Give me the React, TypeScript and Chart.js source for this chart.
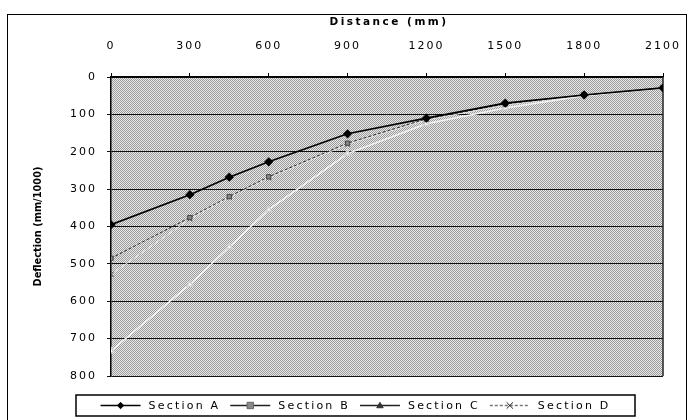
import React, { useEffect, useRef } from "react";
import { Chart, registerables } from "chart.js";

Chart.register(...registerables);

// ---- data ----
const distances = [0, 300, 450, 600, 900, 1200, 1500, 1800, 2100];
const sectionA = [395, 315, 268, 227, 152, 110, 70, 48, 29];
const sectionB = [485, 376, 320, 267, 177, 112, 72, 48, 29];
const sectionC = [733, 555, 455, 355, 205, 125, 83, 50, 30];
const sectionD = [528, 380, 322, 270, 180, 115, 75, 48, 29];
const seriesLabels = ["Section A", "Section B", "Section C", "Section D"];
const xTickValues = [0, 300, 600, 900, 1200, 1500, 1800, 2100];
const yTickValues = [0, 100, 200, 300, 400, 500, 600, 700, 800];
const xTitle = "Distance (mm)";
const yTitle = "Deflection (mm/1000)";

const FONT = "'DejaVu Sans', 'Liberation Sans', Arial, sans-serif";

function makePattern(ctx: CanvasRenderingContext2D) {
  const c = document.createElement("canvas");
  c.width = 4;
  c.height = 4;
  const g = c.getContext("2d")!;
  g.fillStyle = "#e9e9e9";
  g.fillRect(0, 0, 4, 4);
  g.fillStyle = "#9a9a9a";
  for (let y = 0; y < 4; y++)
    for (let x = 0; x < 4; x++) if ((x + y) % 2 === 0) g.fillRect(x, y, 1, 1);
  return ctx.createPattern(c, "repeat");
}

function drawMarker(
  ctx: CanvasRenderingContext2D,
  style: string,
  x: number,
  y: number,
  r: number,
  fill: string,
  stroke: string
) {
  ctx.save();
  ctx.fillStyle = fill;
  ctx.strokeStyle = stroke;
  ctx.lineWidth = 1;
  ctx.beginPath();
  if (style === "rectRot") {
    ctx.moveTo(x, y - r);
    ctx.lineTo(x + r, y);
    ctx.lineTo(x, y + r);
    ctx.lineTo(x - r, y);
    ctx.closePath();
    ctx.fill();
    ctx.stroke();
  } else if (style === "rect") {
    ctx.rect(x - r, y - r, 2 * r, 2 * r);
    ctx.fill();
    ctx.stroke();
  } else if (style === "triangle") {
    ctx.moveTo(x, y - r);
    ctx.lineTo(x + r, y + r * 0.7);
    ctx.lineTo(x - r, y + r * 0.7);
    ctx.closePath();
    ctx.fill();
    ctx.stroke();
  } else {
    ctx.moveTo(x - r, y - r);
    ctx.lineTo(x + r, y + r);
    ctx.moveTo(x + r, y - r);
    ctx.lineTo(x - r, y + r);
    ctx.stroke();
  }
  ctx.restore();
}

const legendStyles = [
  { line: "#000", dash: [] as number[], marker: "rectRot", fill: "#000", stroke: "#000" },
  { line: "#222", dash: [], marker: "rect", fill: "#8a8a8a", stroke: "#666" },
  { line: "#222", dash: [], marker: "triangle", fill: "#333", stroke: "#333" },
  { line: "#777", dash: [3, 2], marker: "crossRot", fill: "#222", stroke: "#222" },
];

const decorPlugin = {
  id: "decor",
  beforeUpdate(chart: any) {
    (chart.ctx as any).letterSpacing = "2px";
  },
  beforeDraw(chart: any) {
    const { ctx, chartArea } = chart;
    (ctx as any).letterSpacing = "2px";
    ctx.save();
    ctx.fillStyle = makePattern(ctx) || "#aaa";
    ctx.fillRect(chartArea.left, chartArea.top, chartArea.right - chartArea.left, chartArea.bottom - chartArea.top);
    ctx.restore();
  },
  beforeDatasetsDraw(chart: any) {
    const { ctx, chartArea } = chart;
    (ctx as any).letterSpacing = "0px";
    ctx.save();
    ctx.strokeStyle = "#222";
    ctx.lineWidth = 1.5;
    ctx.beginPath();
    ctx.moveTo(chartArea.right, chartArea.top);
    ctx.lineTo(chartArea.right, chartArea.bottom);
    ctx.stroke();
    ctx.restore();
  },
  afterDraw(chart: any) {
    const { ctx, chartArea } = chart;
    ctx.save();
    // x title
    (ctx as any).letterSpacing = "2.5px";
    ctx.font = `bold 10.5px ${FONT}`;
    ctx.fillStyle = "#000";
    ctx.textAlign = "center";
    ctx.textBaseline = "middle";
    ctx.fillText(xTitle, (chartArea.left + chartArea.right) / 2 + 2, 22);
    // y title
    (ctx as any).letterSpacing = "0px";
    ctx.save();
    ctx.translate(38, (chartArea.top + chartArea.bottom) / 2);
    ctx.rotate(-Math.PI / 2);
    ctx.font = `bold 9.8px ${FONT}`;
    ctx.fillText(yTitle, 0, 0);
    ctx.restore();

    // legend
    (ctx as any).letterSpacing = "2.2px";
    ctx.font = `11px ${FONT}`;
    ctx.textAlign = "left";
    const lineLen = 40;
    const gapAfterLine = 8;
    const gapBetween = 10;
    const widths = seriesLabels.map((l) => ctx.measureText(l).width);
    const total =
      widths.reduce((s, w) => s + w, 0) + seriesLabels.length * (lineLen + gapAfterLine) + (seriesLabels.length - 1) * gapBetween;
    const boxLeft = 76;
    const boxRight = 635;
    const boxTop = 395;
    const boxBottom = 416;
    const cy = (boxTop + boxBottom) / 2;
    let x = (boxLeft + boxRight) / 2 - total / 2;
    ctx.fillStyle = "#fff";
    ctx.fillRect(boxLeft, boxTop, boxRight - boxLeft, boxBottom - boxTop);
    ctx.strokeStyle = "#000";
    ctx.lineWidth = 1.5;
    ctx.strokeRect(boxLeft, boxTop, boxRight - boxLeft, boxBottom - boxTop);
    seriesLabels.forEach((label, i) => {
      const st = legendStyles[i];
      ctx.save();
      ctx.strokeStyle = st.line;
      ctx.lineWidth = 1.3;
      ctx.setLineDash(st.dash);
      ctx.beginPath();
      ctx.moveTo(x, cy);
      ctx.lineTo(x + lineLen, cy);
      ctx.stroke();
      ctx.restore();
      drawMarker(ctx, st.marker, x + lineLen / 2, cy, 3.2, st.fill, st.stroke);
      x += lineLen + gapAfterLine;
      ctx.fillStyle = "#000";
      ctx.fillText(label, x, cy + 0.5);
      x += widths[i] + gapBetween;
    });
    ctx.restore();
    (ctx as any).letterSpacing = "2px";
  },
};

export default function App() {
  const ref = useRef<HTMLCanvasElement>(null);
  useEffect(() => {
    document.body.style.margin = "0";
    const canvas = ref.current!;
    const mk = (vals: number[]) => distances.map((d, i) => ({ x: d, y: vals[i] }));
    const chart = new Chart(canvas, {
      type: "line",
      data: {
        datasets: [
          {
            label: seriesLabels[0],
            data: mk(sectionA),
            borderColor: "#000",
            borderWidth: 1.6,
            pointStyle: "rectRot",
            pointRadius: 3.5,
            pointBackgroundColor: "#000",
            pointBorderColor: "#000",
          },
          {
            label: seriesLabels[1],
            data: mk(sectionB),
            borderColor: "#2a2a2a",
            borderWidth: 1,
            borderDash: [3, 2],
            pointStyle: "rect",
            pointRadius: 3,
            pointBackgroundColor: "#888",
            pointBorderColor: "#444",
          },
          {
            label: seriesLabels[2],
            data: mk(sectionC),
            borderColor: "#f4f4f4",
            borderWidth: 1.5,
            pointStyle: "triangle",
            pointRadius: 3.5,
            pointBackgroundColor: "#f6f6f6",
            pointBorderColor: "#cfcfcf",
          },
          {
            label: seriesLabels[3],
            data: mk(sectionD),
            borderColor: "#e4e4e4",
            borderWidth: 1,
            pointStyle: "crossRot",
            pointRadius: 3.5,
            pointBorderColor: "#444",
            pointBorderWidth: 1,
          },
        ],
      },
      options: {
        animation: false,
        responsive: false,
        devicePixelRatio: 1,
        layout: { padding: { left: 0, top: 0, right: 30, bottom: 44 } },
        plugins: { legend: { display: false }, tooltip: { enabled: false } },
        scales: {
          x: {
            type: "linear",
            position: "top",
            min: 0,
            max: 2100,
            afterFit: (s: any) => {
              s.height = 77;
              s.paddingLeft = 0;
              s.paddingRight = 0;
            },
            afterBuildTicks: (s: any) => {
              s.ticks = xTickValues.map((v) => ({ value: v }));
            },
            ticks: {
              padding: 20,
              color: "#000",
              font: { family: FONT, size: 11 },
              maxRotation: 0,
              autoSkip: false,
              callback: (v: any) => String(v),
            },
            grid: { drawOnChartArea: false, tickLength: 4, color: "#000", lineWidth: 1 },
            border: { color: "#000", width: 1.5 },
          },
          y: {
            type: "linear",
            reverse: true,
            min: 0,
            max: 800,
            afterFit: (s: any) => {
              s.width = 111;
              s.paddingTop = 0;
              s.paddingBottom = 0;
            },
            afterBuildTicks: (s: any) => {
              s.ticks = yTickValues.map((v) => ({ value: v }));
            },
            ticks: {
              padding: 10,
              color: "#000",
              font: { family: FONT, size: 11 },
              autoSkip: false,
              callback: (v: any) => String(v),
            },
            grid: { color: "#111", lineWidth: 1, tickLength: 4 },
            border: { color: "#000", width: 1.5 },
          },
        },
      },
      plugins: [decorPlugin],
    } as any);
    return () => chart.destroy();
  }, []);
  return (
    <div style={{ position: "relative", width: 693, height: 420, background: "#fff" }}>
      <canvas ref={ref} width={693} height={420} style={{ display: "block" }} />
      <div
        style={{
          position: "absolute",
          left: 7,
          top: 14,
          width: 680,
          height: 410,
          border: "1.5px solid #000",
          boxSizing: "border-box",
          pointerEvents: "none",
        }}
      />
    </div>
  );
}
